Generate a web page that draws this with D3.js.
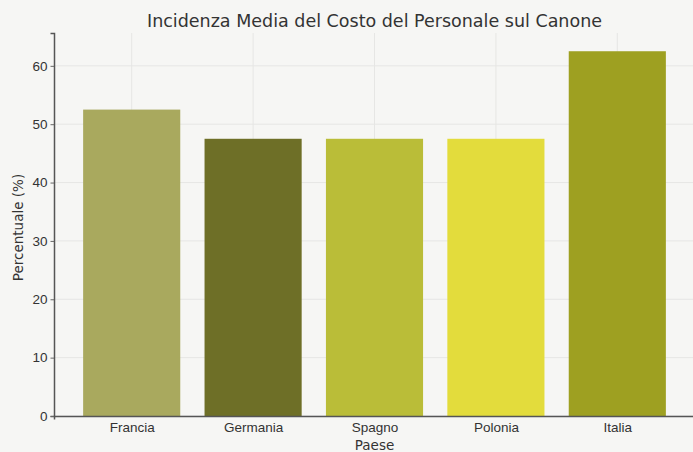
<!DOCTYPE html>
<html>
<head>
<meta charset="utf-8">
<script src="https://cdn.jsdelivr.net/npm/d3@7"></script>
<style>
  body { margin: 0; background: #f6f6f4; }
  svg { display: block; font-family: "DejaVu Sans", sans-serif; }
</style>
</head>
<body>
<svg id="chart" width="693" height="452"></svg>
<script>
var paesi = ["Francia", "Germania", "Spagno", "Polonia", "Italia"];
var percentuali = [52.5, 47.5, 47.5, 47.5, 62.5];
var colori = ["#a9a95e", "#6e6f27", "#babd38", "#e3dc3c", "#9ea021"];
var yTicks = [0, 10, 20, 30, 40, 50, 60];

var width = 693, height = 452;
var margin = { top: 33, right: -2, bottom: 36, left: 54 };
var svg = d3.select("#chart");

// bar positions like matplotlib: width 0.8, 5% margins
var n = paesi.length;
var x = d3.scaleLinear()
    .domain([-0.4 - 0.24, n - 1 + 0.4 + 0.24])
    .range([margin.left, width - margin.right]);
var y = d3.scaleLinear()
    .domain([0, d3.max(percentuali) * 1.05])
    .range([height - margin.bottom, margin.top]);

// grid
var grid = svg.append("g").attr("class", "grid");
grid.selectAll(".hg").data(yTicks).enter().append("line")
    .attr("x1", x.range()[0]).attr("x2", x.range()[1])
    .attr("y1", d => y(d)).attr("y2", d => y(d))
    .attr("stroke", "#e6e6e4").attr("stroke-width", 1);
grid.selectAll(".vg").data(d3.range(n)).enter().append("line")
    .attr("x1", d => x(d)).attr("x2", d => x(d))
    .attr("y1", y.range()[0]).attr("y2", y.range()[1])
    .attr("stroke", "#e6e6e4").attr("stroke-width", 1);

// bars
svg.append("g").selectAll("rect").data(percentuali).enter().append("rect")
    .attr("x", (d, i) => x(i - 0.4))
    .attr("width", (d, i) => x(i + 0.4) - x(i - 0.4))
    .attr("y", d => y(d))
    .attr("height", d => y(0) - y(d))
    .attr("fill", (d, i) => colori[i]);

// axes
var yAxis = d3.axisLeft(y).tickValues(yTicks).tickSize(3.5).tickPadding(3);
var xAxis = d3.axisBottom(x).tickValues(d3.range(n))
    .tickFormat(i => paesi[i]).tickSize(3.5).tickPadding(3);

var gy = svg.append("g")
    .attr("transform", `translate(${margin.left},0)`)
    .call(yAxis);
var gx = svg.append("g")
    .attr("transform", `translate(0,${height - margin.bottom})`)
    .call(xAxis);
[gx, gy].forEach(g => {
    g.select(".domain").attr("stroke", "#555").attr("stroke-width", 1.5);
    g.selectAll(".tick line").attr("stroke", "#666");
    g.selectAll(".tick text").attr("fill", "#333").style("font-size", "13.5px");
});
gx.selectAll(".tick line").remove();

// titles
svg.append("text")
    .attr("x", (x.range()[0] + x.range()[1]) / 2).attr("y", 27)
    .attr("text-anchor", "middle")
    .attr("fill", "#333").style("font-size", "17.5px")
    .text("Incidenza Media del Costo del Personale sul Canone");
svg.append("text")
    .attr("x", (x.range()[0] + x.range()[1]) / 2).attr("y", 450)
    .attr("text-anchor", "middle")
    .attr("fill", "#333").style("font-size", "13.5px")
    .text("Paese");
svg.append("text")
    .attr("transform", `translate(23,${(y.range()[0] + y.range()[1]) / 2 + 3}) rotate(-90)`)
    .attr("text-anchor", "middle")
    .attr("fill", "#333").style("font-size", "13.5px")
    .text("Percentuale (%)");
</script>
</body>
</html>
